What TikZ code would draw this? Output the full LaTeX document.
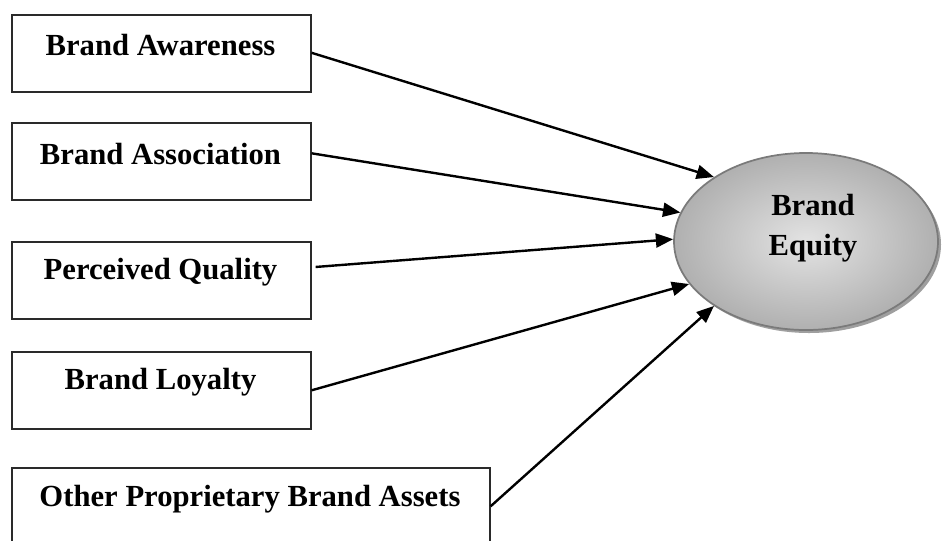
\documentclass[tikz,border=0pt]{standalone}
\usepackage{fontspec}
\setmainfont{Liberation Serif}
\usetikzlibrary{arrows.meta,shapes.geometric,shadows}
\definecolor{boxline}{HTML}{2A2A2A}
\definecolor{ellline}{HTML}{7A7A7A}
\tikzset{
  srcbox/.style={draw=boxline, line width=1.2pt, fill=white, minimum width=299*0.75pt, minimum height=77*0.75pt, inner sep=0pt, anchor=north west},
  boxtext/.style={font=\fontsize{23}{28}\selectfont\bfseries, inner sep=0pt},
  conn/.style={line width=1.8pt, -{Triangle[length=13pt,width=10.5pt]}},
  goal/.style={ellipse, draw=ellline, line width=1.3pt, minimum width=264*0.75pt, minimum height=177*0.75pt, inner sep=0pt, inner color=gray!22, outer color=gray!62},
  goalshadow/.style={ellipse, fill=gray!75, minimum width=264*0.75pt, minimum height=177*0.75pt, inner sep=0pt}
}
\begin{document}
\begin{tikzpicture}[x=0.75pt,y=-0.75pt]
\clip (0,0) rectangle (942,540);
\fill[white] (0,0) rectangle (942,540);
% boxes
\node[srcbox] (b1) at (11,14) {};
\node[srcbox] (b2) at (11,122) {};
\node[srcbox] (b3) at (11,241) {};
\node[srcbox] (b4) at (11,351) {};
\node[srcbox, minimum width=478*0.75pt] (b5) at (11,467) {};
\node[boxtext] (t1) at (160.5,45.5) {Brand Awareness};
\node[boxtext] (t2) at (160.5,154) {Brand Association};
\node[boxtext] (t3) at (160.5,272.5) {Perceived Quality};
\node[boxtext] (t4) at (160.5,382.5) {Brand Loyalty};
\node[boxtext] (t5) at (250,499.5) {Other Proprietary Brand Assets};
% ellipse
\node[goalshadow] (eqs) at (809,244.5) {};
\node[goal] (eq) at (806,241.5) {};
\node[boxtext, align=center, font=\fontsize{23}{30}\selectfont\bfseries] (eqt) at (813,228) {Brand\\Equity};
% connectors
\draw[conn] ([yshift=0.5*0.75pt]b1.east) -- (eq.145);
\draw[conn] ([yshift=6pt]b2.east) -- (eq.167);
\draw[conn] ([xshift=3pt,yshift=10pt]b3.east) -- (eq.179.4);
\draw[conn] (b4.east) -- (eq.200);
\draw[conn] (b5.east) -- (eq.215);
\end{tikzpicture}
\end{document}
